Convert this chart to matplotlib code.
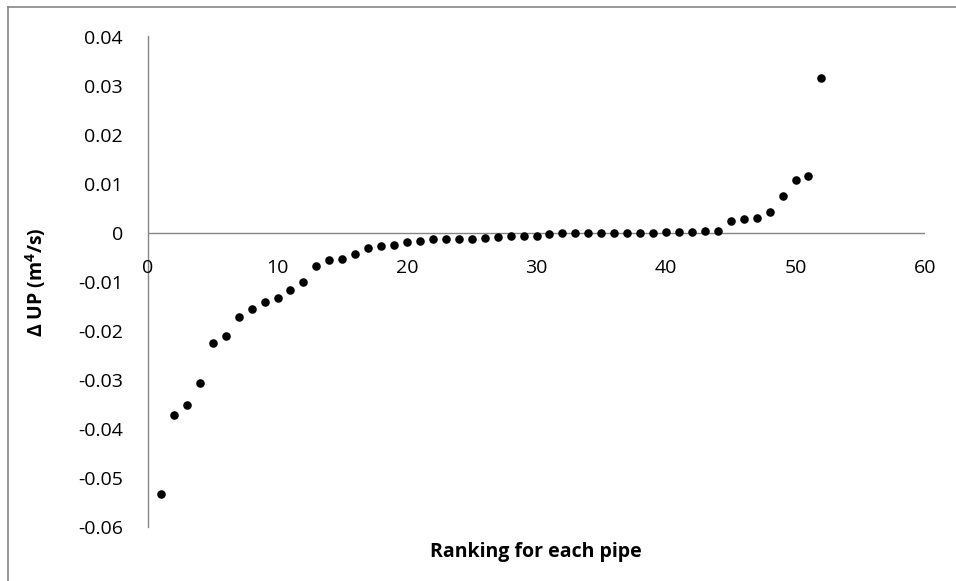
import matplotlib
matplotlib.use("Agg")
import matplotlib.pyplot as plt
from matplotlib.lines import Line2D

rank = list(range(1, 53))
delta_up = [
    -0.0533, -0.0371, -0.0351, -0.0307, -0.0225, -0.0211, -0.0172, -0.0155,
    -0.0141, -0.0134, -0.0117, -0.0101, -0.0067, -0.0056, -0.0054, -0.0044,
    -0.0031, -0.0027, -0.0025, -0.0018, -0.0016, -0.0013, -0.0013, -0.0013,
    -0.0012, -0.0011, -0.0009, -0.0007, -0.0007, -0.0007, -0.0003, -0.0001,
    -0.0001, -0.0001, -0.0001, -0.0001, 0.0000, 0.0000, 0.0000, 0.0001,
    0.0001, 0.0001, 0.0003, 0.0004, 0.0023, 0.0027, 0.0030, 0.0043,
    0.0075, 0.0108, 0.0116, 0.0315,
]
x_ticks = [0, 10, 20, 30, 40, 50, 60]
y_ticks = [0.04, 0.03, 0.02, 0.01, 0, -0.01, -0.02, -0.03, -0.04, -0.05, -0.06]
x_label = "Ranking for each pipe"
y_label = "Δ UP (m$^4$/s)"

plt.rcParams['font.family'] = ['Open Sans', 'DejaVu Sans']
plt.rcParams['mathtext.fontset'] = 'custom'
plt.rcParams['mathtext.rm'] = 'Open Sans'
plt.rcParams['mathtext.bf'] = 'Open Sans:bold'
plt.rcParams['mathtext.default'] = 'regular'

FS = 14

fig = plt.figure(figsize=(9.56, 5.81), dpi=100)
ax = fig.add_axes([148/956, 1-527/581, (925-148)/956, (527-36.5)/581])

ax.scatter(rank, delta_up, s=38, color='black', zorder=3, linewidths=0)

ax.set_xlim(0, 60)
ax.set_ylim(-0.06, 0.04)
ax.set_xticks(x_ticks)
ax.set_yticks(y_ticks)
ax.set_xticklabels([])
ax.set_yticklabels(["0" if t == 0 else f"{t:.2f}" for t in y_ticks])

for s in ['top', 'right', 'bottom']:
    ax.spines[s].set_visible(False)
ax.spines['left'].set_color('#868686')
ax.spines['left'].set_linewidth(1.0)
ax.axhline(0, color='#868686', linewidth=1.0, zorder=1)

ax.tick_params(axis='both', length=0, labelsize=FS, colors='black')
ax.tick_params(axis='y', pad=18)

for t in x_ticks:
    ax.text(t, -0.0053, str(t), ha='center', va='top', fontsize=FS)

fig.text(536/956, 1-552/581, x_label, ha='center', va='center',
         fontsize=FS, fontweight='bold')
fig.text(36/956, 1-282/581, y_label, ha='center', va='center',
         rotation=90, fontsize=FS, fontweight='bold')

fig.add_artist(Line2D([8/956, 1], [1-7/581, 1-7/581], color='#868686',
                      linewidth=1.2, transform=fig.transFigure))
fig.add_artist(Line2D([8/956, 8/956], [0, 1-7/581], color='#868686',
                      linewidth=1.2, transform=fig.transFigure))

fig.savefig("out.png", dpi=100)
